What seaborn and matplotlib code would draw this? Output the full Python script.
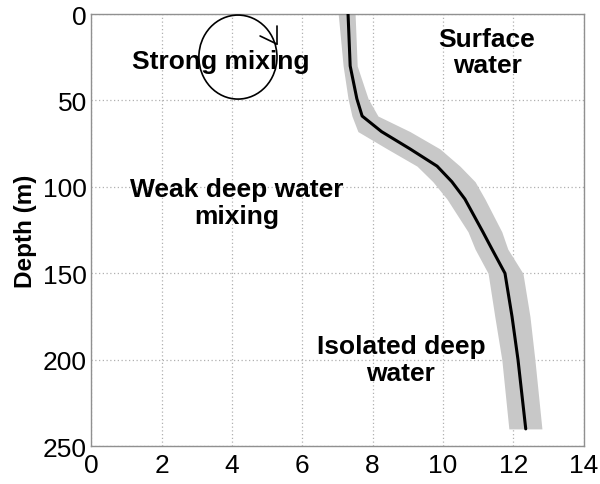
import matplotlib
matplotlib.use("Agg")
import matplotlib.pyplot as plt
import seaborn as sns
import pandas as pd
from matplotlib.patches import Ellipse

# ---- data ----
depth = [0, 30, 49, 59, 68, 78, 88, 97, 107, 126, 136, 150, 175, 200, 240]
temp_mean = [7.30, 7.36, 7.55, 7.70, 8.25, 9.06, 9.83, 10.25, 10.62, 11.13, 11.39, 11.76, 11.96, 12.13, 12.35]
temp_low = [7.02, 7.16, 7.30, 7.41, 7.58, 8.41, 9.26, 9.71, 10.11, 10.71, 10.91, 11.28, 11.47, 11.67, 11.87]
temp_high = [7.50, 7.56, 7.87, 8.15, 9.06, 9.91, 10.48, 10.91, 11.19, 11.67, 11.84, 12.27, 12.47, 12.61, 12.81]

x_ticks = [0, 2, 4, 6, 8, 10, 12, 14]
y_ticks = [0, 50, 100, 150, 200, 250]

labels = ["Strong mixing", "Surface\nwater", "Weak deep water\nmixing", "Isolated deep\nwater"]
label_x = [3.69, 11.25, 4.13, 8.8]
label_y = [27, 22, 109, 200]

df = pd.DataFrame({"depth": depth, "temp": temp_mean})

sns.set_style("white")
plt.rcParams["font.family"] = ["Liberation Sans", "DejaVu Sans"]
plt.rcParams["text.color"] = "black"
plt.rcParams["xtick.color"] = "black"
plt.rcParams["ytick.color"] = "black"
plt.rcParams["axes.labelcolor"] = "black"

fig = plt.figure(figsize=(6.0, 4.85), dpi=100)
ax = fig.add_axes([0.152, 0.078, 0.821, 0.891])

ax.fill_betweenx(depth, temp_low, temp_high, color="#c8c8c8", linewidth=0, zorder=2)
sns.lineplot(data=df, x="temp", y="depth", sort=False, estimator=None,
             color="black", linewidth=2.2, ax=ax, zorder=3)

ax.set_xlim(0, 14)
ax.set_ylim(250, 0)
ax.set_xticks(x_ticks)
ax.set_yticks(y_ticks)
ax.set_xticklabels([str(v) for v in x_ticks], fontsize=19)
ax.set_yticklabels([str(v) for v in y_ticks], fontsize=19)
ax.tick_params(axis="both", direction="in", length=3, color="#909090", labelcolor="black")
ax.tick_params(axis="y", pad=3)
ax.tick_params(axis="x", pad=5)
ax.grid(True, linestyle=(0, (1, 2)), color="#b0b0b0", linewidth=0.9)
ax.set_axisbelow(True)
for s in ax.spines.values():
    s.set_color("#909090")
    s.set_linewidth(1.0)
    s.set_visible(True)

ax.set_xlabel("")
ax.set_ylabel("Depth (m)", fontsize=17.5, fontweight="bold", labelpad=4, color="black")

for t, x, y in zip(labels, label_x, label_y):
    ax.text(x, y, t, fontsize=19, fontweight="bold", ha="center", va="center",
            linespacing=1.15, color="black", zorder=5)

# circular-mixing symbol
ax.add_patch(Ellipse((4.17, 24.9), 2.22, 48.6, fill=False, edgecolor="black", linewidth=1.2, zorder=6))
ax.plot([4.80, 5.28], [12.7, 17.4], color="black", linewidth=1.2, zorder=6, clip_on=False)
ax.plot([5.28, 5.28], [6.9, 17.4], color="black", linewidth=1.2, zorder=6, clip_on=False)

fig.savefig("out.png", dpi=100)
